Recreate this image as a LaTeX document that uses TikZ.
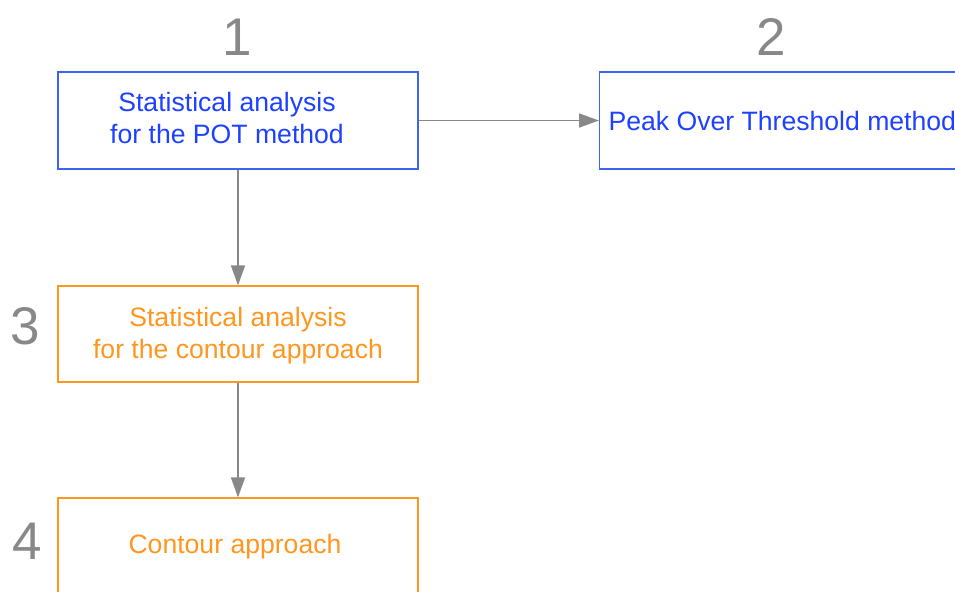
\documentclass[tikz,border=0pt]{standalone}
\usepackage{fontspec}
\setmainfont{Liberation Sans}
\usetikzlibrary{arrows.meta}
\definecolor{btext}{RGB}{30,64,255}
\definecolor{bline}{RGB}{60,100,240}
\definecolor{orng}{RGB}{255,150,30}
\definecolor{gr}{RGB}{136,136,136}
\begin{document}
\begin{tikzpicture}[x=0.5pt,y=-0.5pt,
  bluebox/.style={draw=bline,line width=0.6pt,text=btext,align=center,minimum width=180pt,font=\fontsize{13.3}{16}\selectfont},
  orbox/.style={draw=orng,line width=0.6pt,text=orng,align=center,minimum width=180pt,font=\fontsize{13.3}{16}\selectfont},
  num/.style={text=gr,font=\fontsize{26.5}{30}\selectfont,inner sep=0pt},
  arr/.style={draw=gr,line width=0.75pt,-{Triangle[length=10pt,width=7pt]}}]
\useasboundingbox (0,0) rectangle (955,591);
\clip (0,0) rectangle (955,591);
\node[num] (n1) at (237,37) {1};
\node[num] (n2) at (771,37) {2};
\node[num] (n3) at (25,326) {3};
\node[num] (n4) at (27,541) {4};
\node[bluebox,minimum height=48.5pt] (b1) at (238,120.5) {};
\node[bluebox,draw=none,minimum width=0pt] (t1) at (227,117.5) {Statistical analysis\\for the POT method};
\node[bluebox,anchor=west,minimum width=0pt,minimum height=48.5pt,inner xsep=4.5pt] (b2) at (599,120.5) {Peak Over Threshold method};
\node[orbox,minimum height=48pt] (b3) at (238,334) {};
\node[orbox,draw=none,minimum width=0pt] (t3) at (238,335.5) {Statistical analysis\\for the contour approach};
\node[orbox,minimum height=50pt] (b4) at (238,548) {};
\node[orbox,draw=none,minimum width=0pt] (t4) at (235,547) {Contour approach};
\draw[arr] (b1.east) -- (b2.west);
\draw[arr] (b1.south) -- (b3.north);
\draw[arr] (b3.south) -- (b4.north);
\end{tikzpicture}
\end{document}
